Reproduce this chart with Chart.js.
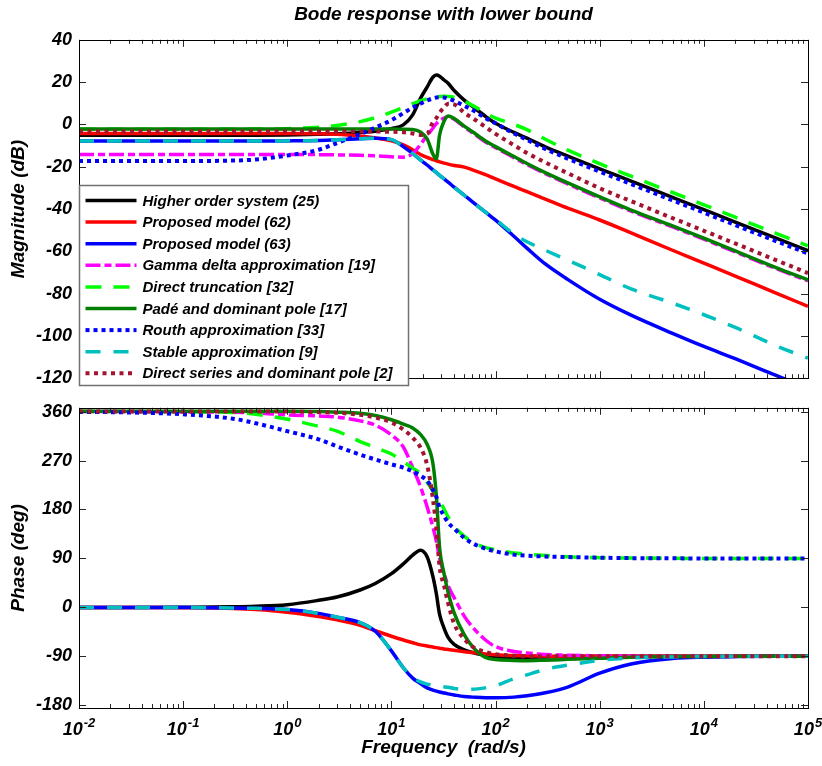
<!DOCTYPE html>
<html>
<head>
<meta charset="utf-8">
<script src="https://cdn.jsdelivr.net/npm/chart.js@4.4.1/dist/chart.umd.min.js"></script>
<style>
  body { margin: 0; background: #fff; }
  #wrap { position: relative; width: 822px; height: 766px; }
  #mag { position: absolute; left: 0; top: 0; }
  #phase { position: absolute; left: 0; top: 390px; }
</style>
</head>
<body>
<div id="wrap">
  <canvas id="mag" width="822" height="396"></canvas>
  <canvas id="phase" width="822" height="376"></canvas>
</div>
<script>
// frequency grid (rad/s)
const freq = [0.01, 0.03, 0.1, 0.3, 0.5, 1, 2, 3, 5, 7, 10, 13, 16, 19, 22, 25, 27, 29, 32, 35,
  40, 50, 60, 80, 100, 150, 200, 300, 500, 1000, 2000, 5000, 1e4, 2e4, 5e4, 1e5];

// magnitude (dB)
const magHigher = [-5.1, -5.1, -5.1, -5.1, -5.1, -5.0, -4.7, -4.4, -3.8, -3.2, -2.0, -0.2, 4.5, 12.3, 17.6, 22.3, 23.3, 22.8, 21.0, 19.5,
  16.0, 11.5, 8.5, 3.8, 0.5, -3.8, -6.5, -10.6, -15.1, -21.0, -26.8, -34.5, -40.3, -46.2, -53.9, -59.7];
const magProp62 = [-4.3, -4.3, -4.3, -4.3, -4.3, -4.3, -4.4, -4.6, -5.5, -6.4, -7.8, -9.7, -12.0, -14.2, -15.6, -16.6, -17.2, -17.7, -18.3, -18.8,
  -19.4, -20.2, -21.5, -23.8, -25.8, -29.3, -31.8, -35.3, -39.7, -45.2, -51.3, -59.5, -65.6, -71.7, -79.9, -86.0];
const magProp63 = [-7.9, -7.9, -7.9, -7.9, -7.9, -7.8, -7.6, -7.3, -6.8, -6.5, -7.2, -10.5, -13.8, -16.8, -19.2, -21.5, -22.8, -24.1, -25.8, -27.3,
  -29.7, -33.5, -36.6, -41.5, -45.3, -52.9, -58.5, -66.0, -73.5, -82.7, -90.2, -98.8, -105.0, -110.8, -118.8, -124.8];
const magGamma = [-14.2, -14.2, -14.2, -14.2, -14.2, -14.2, -14.3, -14.4, -14.6, -14.9, -15.3, -15.5, -13.8, -9.5, -5.2, -1.8, 0.4, 1.8, 3.0, 3.5,
  2.5, -1.2, -4.0, -8.3, -11.0, -15.7, -19.0, -23.3, -28.3, -34.8, -41.0, -48.5, -54.3, -60.3, -68.3, -74.0];
const magTrunc = [-2.3, -2.3, -2.3, -2.3, -2.2, -2.0, -1.3, -0.5, 1.3, 3.2, 5.8, 8.0, 9.8, 11.2, 12.1, 12.7, 13.0, 13.2, 13.3, 13.2,
  12.8, 11.0, 9.0, 5.4, 3.0, 0.0, -2.5, -7.0, -12.3, -18.6, -24.5, -32.2, -38.0, -43.9, -51.6, -57.4];
const magPade = [-2.2, -2.2, -2.2, -2.2, -2.2, -2.2, -2.2, -2.2, -2.2, -2.2, -2.2, -2.3, -2.4, -3.6, -6.8, -14.0, -16.3, -5.0, 1.5, 4.0,
  2.8, -0.8, -3.5, -7.8, -10.5, -15.2, -18.5, -22.8, -27.8, -34.3, -40.5, -48.0, -53.8, -59.8, -67.8, -73.5];
const magRouth = [-17.3, -17.3, -17.3, -17.1, -16.6, -14.7, -12.0, -8.8, -4.6, -1.5, 2.0, 5.3, 8.0, 9.8, 11.3, 12.3, 12.7, 12.8, 12.7, 12.2,
  11.2, 8.8, 6.8, 3.0, 0.5, -4.3, -7.3, -11.6, -16.3, -22.3, -28.2, -35.9, -41.7, -47.6, -55.3, -61.0];
const magStable = [-7.9, -7.9, -7.9, -7.9, -7.9, -7.8, -7.6, -7.3, -6.8, -6.5, -7.2, -10.5, -13.8, -16.8, -19.2, -21.5, -22.8, -24.1, -25.8, -27.3,
  -29.7, -33.5, -36.6, -41.5, -45.0, -51.8, -55.5, -59.5, -64.3, -71.0, -77.8, -84.5, -90.0, -96.0, -104.8, -110.5];
const magDirect = [-3.4, -3.4, -3.4, -3.4, -3.4, -3.4, -3.4, -3.4, -3.4, -3.4, -3.5, -3.7, -4.3, -5.0, -4.5, 1.0, 3.0, 5.5, 8.0, 9.8,
  9.5, 5.5, 3.0, -1.2, -4.5, -9.8, -13.5, -18.0, -23.2, -30.2, -36.3, -44.3, -50.3, -56.3, -64.3, -70.3];

// phase (deg)
const phHigher = [0, 0, 0.3, 1, 2, 5, 13, 19, 32, 44, 62, 80, 96, 105, 93, 57, 25, -13, -38, -55,
  -68, -78, -83, -88, -91, -92, -91.5, -91, -90.5, -90, -90, -90, -90, -90, -90, -90];
const phProp62 = [0, -0.2, -0.7, -2, -4, -9, -17, -23, -33, -43, -53, -60, -65, -69, -71, -73, -74, -75, -76.5, -77.5,
  -79, -81.5, -83, -85.5, -87, -88.5, -89, -89.5, -90, -90, -90, -90, -90, -90, -90, -90];
const phProp63 = [0, 0, -0.3, -1, -1.8, -4, -11, -18, -28, -44, -80, -111, -130, -140, -148, -152, -154, -155.5, -157.5, -159,
  -161, -164, -165, -166, -166, -165, -162.5, -157, -146, -121, -104, -94, -91.5, -90.5, -90, -90];
const phGamma = [360, 360, 359.5, 359, 357.5, 354, 352, 350, 343, 335, 317, 295, 257, 222, 185, 148, 122, 90, 62, 40,
  18, -16, -36, -60, -72, -81, -84, -86.5, -88, -89, -89.5, -90, -90, -90, -90, -90];
const phTrunc = [360, 360, 359.5, 358.5, 355, 346, 333, 324, 305, 294, 282, 268, 256, 246, 230, 214, 204, 195, 181, 166,
  149, 131, 120, 110, 106, 100, 98, 95.5, 93, 91.5, 90.8, 90.3, 90, 90, 90, 90];
const phPade = [360.5, 360.5, 360.5, 360.5, 360.5, 360.5, 360, 359, 357, 353, 345, 337, 330, 318, 300, 265, 205, 110, 62, 28,
  -10, -50, -72, -92, -96, -97.5, -98, -97, -95.5, -93.5, -91.8, -90.5, -90.2, -90, -90, -90];
const phRouth = [359.5, 358.5, 355, 347, 338.5, 324, 309, 296, 281, 272, 263, 257, 250, 242, 233, 216, 203, 184, 168, 156,
  145, 128, 118, 108, 103, 97, 95, 93.5, 92.5, 91.3, 90.6, 90.2, 90, 90, 90, 90];
const phStable = [0, 0, -0.3, -1, -1.8, -4, -11, -18, -28, -44, -80, -111, -129, -137, -141, -143, -144, -145, -146, -147,
  -149, -150.5, -150.5, -148, -144, -131, -124, -114, -106, -97.5, -93, -91, -90.3, -90, -90, -90];
const phDirect = [360, 360, 360, 360, 360, 360, 359, 358, 354, 349, 340, 327, 312, 294, 262, 200, 145, 75, 40, 8,
  -30, -58, -72, -82, -86, -89, -90, -90, -90, -90, -90, -90, -90, -90, -90, -90];

// tick labels
const magTicks = [-120, -100, -80, -60, -40, -20, 0, 20, 40];
const phaseTicks = [-180, -90, 0, 90, 180, 270, 360];
const decadeTicks = [1e-2, 1e-1, 1, 10, 100, 1e3, 1e4, 1e5];
const decadeExp = ['-2', '-1', '0', '1', '2', '3', '4', '5'];

const labels = ['Higher order system (25)', 'Proposed model (62)', 'Proposed model (63)',
  'Gamma delta approximation [19]', 'Direct truncation [32]', 'Padé and dominant pole [17]',
  'Routh approximation [33]', 'Stable approximation [9]', 'Direct series and dominant pole [2]'];
const magSeries = [magHigher, magProp62, magProp63, magGamma, magTrunc, magPade, magRouth, magStable, magDirect];
const phSeries = [phHigher, phProp62, phProp63, phGamma, phTrunc, phPade, phRouth, phStable, phDirect];

const styles = [
  { color: '#000000', width: 3.5, dash: [] },
  { color: '#FF0000', width: 3.5, dash: [] },
  { color: '#0000FF', width: 3.5, dash: [] },
  { color: '#FF00FF', width: 3.5, dash: [15, 4, 7, 4] },
  { color: '#00FF00', width: 3.5, dash: [16, 12] },
  { color: '#008000', width: 3.5, dash: [] },
  { color: '#0000FF', width: 4, dash: [4, 4] },
  { color: '#00BFBF', width: 3.5, dash: [15, 13] },
  { color: '#A2142F', width: 4, dash: [4, 4.5] }
];

const FONT = "'Liberation Sans', Arial, Helvetica, sans-serif";
const bi = size => ({ family: FONT, size: size, weight: 'bold', style: 'italic' });

function makeDatasets(values) {
  return values.map((arr, i) => ({
    label: labels[i],
    data: freq.map((w, k) => ({ x: w, y: arr[k] })),
    borderColor: styles[i].color,
    borderWidth: styles[i].width,
    borderDash: styles[i].dash,
    pointRadius: 0,
    fill: false,
    cubicInterpolationMode: 'monotone',
    order: values.length - i, // later series on top, like the original
    clip: 0
  }));
}

// box + inward ticks on all four sides
const framePlugin = {
  id: 'frame',
  afterDatasetsDraw(chart, args, opts) {
    const { ctx, chartArea: a, scales } = chart;
    const x = scales.x, y = scales.y;
    ctx.save();
    ctx.strokeStyle = '#262626';
    ctx.lineWidth = 1;
    ctx.beginPath();
    for (let d = -2; d <= 5; d++) {
      for (let m = 1; m <= 9; m++) {
        const v = m * Math.pow(10, d);
        if (v > 1.0001e5) break;
        const px = Math.round(x.getPixelForValue(v)) + 0.5;
        const len = m === 1 ? 7 : 4;
        ctx.moveTo(px, a.top); ctx.lineTo(px, a.top + len);
        ctx.moveTo(px, a.bottom); ctx.lineTo(px, a.bottom - len);
      }
    }
    opts.yTicks.forEach(v => {
      const py = Math.round(y.getPixelForValue(v)) + 0.5;
      ctx.moveTo(a.left, py); ctx.lineTo(a.left + 7, py);
      ctx.moveTo(a.right, py); ctx.lineTo(a.right - 7, py);
    });
    ctx.stroke();
    ctx.strokeStyle = '#000';
    ctx.strokeRect(Math.round(a.left) + 0.5, Math.round(a.top) + 0.5,
      Math.round(a.right - a.left), Math.round(a.bottom - a.top));
    ctx.restore();
  }
};

// legend box drawn inside the magnitude axes
const boxLegend = {
  id: 'boxLegend',
  afterDraw(chart, args, o) {
    const { ctx } = chart;
    ctx.save();
    ctx.fillStyle = '#fff';
    ctx.fillRect(o.left, o.top, o.width, o.height);
    ctx.strokeStyle = '#707070';
    ctx.lineWidth = 1.5;
    ctx.strokeRect(o.left, o.top, o.width, o.height);
    chart.data.datasets.forEach((ds, i) => {
      const yy = o.top + o.firstRow + i * o.rowGap;
      ctx.setLineDash(ds.borderDash);
      ctx.strokeStyle = ds.borderColor;
      ctx.lineWidth = ds.borderWidth;
      ctx.beginPath();
      ctx.moveTo(o.left + 6, yy);
      ctx.lineTo(o.left + 57, yy);
      ctx.stroke();
      ctx.setLineDash([]);
      ctx.fillStyle = '#000';
      ctx.font = 'italic bold ' + o.fontSize + 'px ' + FONT;
      ctx.textBaseline = 'middle';
      ctx.fillText(ds.label, o.left + 63, yy + 1);
    });
    ctx.restore();
  }
};

// 10^n frequency labels
const expLabels = {
  id: 'expLabels',
  afterDraw(chart) {
    const { ctx, chartArea, scales: { x } } = chart;
    ctx.save();
    ctx.fillStyle = '#000';
    ctx.textBaseline = 'alphabetic';
    ctx.textAlign = 'left';
    decadeTicks.forEach((v, i) => {
      ctx.font = 'italic bold 18px ' + FONT;
      const wb = ctx.measureText('10').width;
      ctx.font = 'italic bold 13px ' + FONT;
      const we = ctx.measureText(decadeExp[i]).width;
      const left = x.getPixelForValue(v) - (wb + we + 1) / 2;
      const yb = chartArea.bottom + 27;
      ctx.font = 'italic bold 18px ' + FONT;
      ctx.fillText('10', left, yb);
      ctx.font = 'italic bold 13px ' + FONT;
      ctx.fillText(decadeExp[i], left + wb + 1, yb - 8);
    });
    ctx.restore();
  }
};

const common = {
  animation: false,
  responsive: false,
  devicePixelRatio: 1,
  events: []
};

new Chart(document.getElementById('mag'), {
  type: 'line',
  data: { datasets: makeDatasets(magSeries) },
  options: Object.assign({}, common, {
    layout: { padding: { left: 0, right: 14, top: 0, bottom: 10 } },
    plugins: {
      legend: { display: false },
      tooltip: { enabled: false },
      title: {
        display: true, fullSize: false, text: 'Bode response with lower bound',
        color: '#000', font: bi(19), padding: { top: 3, bottom: 14 }
      },
      frame: { yTicks: magTicks },
      boxLegend: { left: 79.5, top: 185.5, width: 329, height: 200, firstRow: 15, rowGap: 21.6, fontSize: 15 }
    },
    scales: {
      x: { type: 'logarithmic', min: 0.01, max: 1e5, display: false },
      y: {
        min: -120, max: 40,
        afterBuildTicks: s => { s.ticks = magTicks.map(v => ({ value: v })); },
        afterFit: s => { s.width = 79; },
        grid: { display: false, drawTicks: false },
        border: { display: false },
        ticks: { color: '#000', padding: 7, font: bi(18) },
        title: { display: true, text: 'Magnitude (dB)', color: '#000', font: bi(19), padding: { top: 7, bottom: 0 } }
      }
    }
  }),
  plugins: [framePlugin, boxLegend]
});

new Chart(document.getElementById('phase'), {
  type: 'line',
  data: { datasets: makeDatasets(phSeries) },
  options: Object.assign({}, common, {
    layout: { padding: { left: 0, right: 14, top: 11, bottom: 0 } },
    plugins: {
      legend: { display: false },
      tooltip: { enabled: false },
      frame: { yTicks: phaseTicks }
    },
    scales: {
      x: {
        type: 'logarithmic', min: 0.01, max: 1e5,
        afterFit: s => { s.height = 58; },
        grid: { display: false, drawTicks: false },
        border: { display: false },
        ticks: { display: false },
        title: { display: true, text: 'Frequency  (rad/s)', color: '#000', font: bi(19), padding: { top: 0, bottom: 7 } }
      },
      y: {
        min: -185, max: 367,
        afterBuildTicks: s => { s.ticks = phaseTicks.map(v => ({ value: v })); },
        afterFit: s => { s.width = 79; },
        grid: { display: false, drawTicks: false },
        border: { display: false },
        ticks: { color: '#000', padding: 7, font: bi(18) },
        title: { display: true, text: 'Phase (deg)', color: '#000', font: bi(19), padding: { top: 7, bottom: 0 } }
      }
    }
  }),
  plugins: [framePlugin, expLabels]
});
</script>
</body>
</html>
